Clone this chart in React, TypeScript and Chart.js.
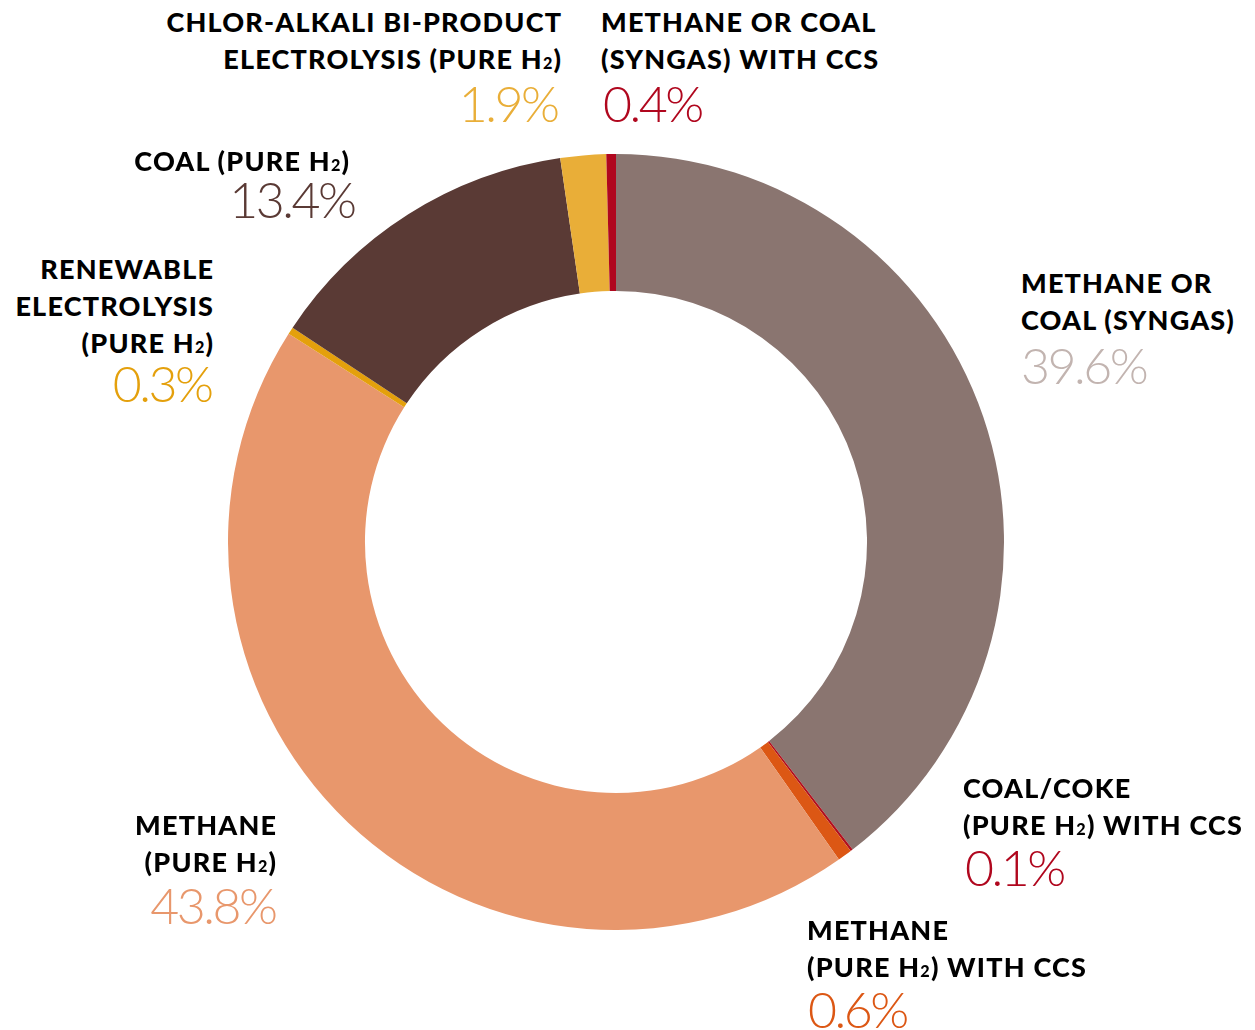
import React, { useEffect, useRef } from "react";
import { Chart, registerables } from "chart.js";

Chart.register(...registerables);

// ---- data ----
const categories = [
  "METHANE OR COAL (SYNGAS)",
  "COAL/COKE (PURE H2) WITH CCS",
  "METHANE (PURE H2) WITH CCS",
  "METHANE (PURE H2)",
  "RENEWABLE ELECTROLYSIS (PURE H2)",
  "COAL (PURE H2)",
  "CHLOR-ALKALI BI-PRODUCT ELECTROLYSIS (PURE H2)",
  "METHANE OR COAL (SYNGAS) WITH CCS",
];
const shares = [39.6, 0.1, 0.6, 43.8, 0.3, 13.4, 1.9, 0.4];
const valueLabels = ["39.6%", "0.1%", "0.6%", "43.8%", "0.3%", "13.4%", "1.9%", "0.4%"];
const labelLines: string[][] = [
  ["METHANE OR", "COAL (SYNGAS)"],
  ["COAL/COKE", "(PURE H_2) WITH CCS"],
  ["METHANE", "(PURE H_2) WITH CCS"],
  ["METHANE", "(PURE H_2)"],
  ["RENEWABLE", "ELECTROLYSIS", "(PURE H_2)"],
  ["COAL (PURE H_2)"],
  ["CHLOR-ALKALI BI-PRODUCT", "ELECTROLYSIS (PURE H_2)"],
  ["METHANE OR COAL", "(SYNGAS) WITH CCS"],
];

// ---- styles ----
const sliceColors = ["#8A7570", "#B0101F", "#DC5714", "#E8976C", "#E4A00C", "#5A3A35", "#E9AE38", "#B0071E"];
const numberColors = ["#C2B4B0", "#B0071E", "#DC5714", "#E8976C", "#E4A00C", "#5A3A35", "#E9AE38", "#B0071E"];

// label layout: anchor x, alignment, center y of first line, number anchor x, center y of number
const labelLayout = [
  { x: 1021, align: "left", y0: 282, nx: 1021, ny: 365 },
  { x: 963, align: "left", y0: 787, nx: 965, ny: 867 },
  { x: 807, align: "left", y0: 929, nx: 808, ny: 1009 },
  { x: 276, align: "right", y0: 824, nx: 278, ny: 905 },
  { x: 213, align: "right", y0: 268, nx: 214, ny: 383 },
  { x: 349, align: "right", y0: 160, nx: 357, ny: 199 },
  { x: 561, align: "right", y0: 21, nx: 560, ny: 103 },
  { x: 601, align: "left", y0: 21, nx: 603, ny: 103 },
];

const LINE_H = 37;
const LABEL_FONT = 27;
const NUM_FONT = 50;
const W = 1255;

function renderLine(text: string) {
  const parts = text.split("_2");
  const out: React.ReactNode[] = [];
  parts.forEach((p, i) => {
    out.push(<span key={"p" + i}>{p}</span>);
    if (i < parts.length - 1) {
      out.push(
        <span key={"s" + i} style={{ fontSize: "0.6em", verticalAlign: "baseline" }}>
          2
        </span>
      );
    }
  });
  return out;
}

export default function App() {
  const canvasRef = useRef<HTMLCanvasElement | null>(null);

  useEffect(() => {
    if (!canvasRef.current) return;
    const chart = new Chart(canvasRef.current, {
      type: "doughnut",
      data: {
        labels: categories,
        datasets: [
          {
            data: shares,
            backgroundColor: sliceColors,
            borderWidth: 0,
            hoverOffset: 0,
          },
        ],
      },
      options: {
        responsive: false,
        animation: false,
        cutout: "64.7%",
        rotation: 0,
        layout: { padding: 0 },
        plugins: {
          legend: { display: false },
          tooltip: { enabled: false },
        },
      },
    });
    return () => chart.destroy();
  }, []);

  return (
    <div
      style={{
        position: "absolute",
        left: 0,
        top: 0,
        width: W,
        height: 1030,
        overflow: "hidden",
        background: "#ffffff",
        fontFamily: "Lato, 'Noto Sans', sans-serif",
      }}
    >
      <canvas
        ref={canvasRef}
        width={776}
        height={776}
        style={{ position: "absolute", left: 228, top: 154, width: 776, height: 776 }}
      />
      {labelLayout.map((l, i) => {
        const posStyle: React.CSSProperties =
          l.align === "left"
            ? { left: l.x, textAlign: "left" }
            : { right: W - l.x - 1.2, textAlign: "right" };
        const numStyle: React.CSSProperties =
          l.align === "left"
            ? { left: l.nx, textAlign: "left" }
            : { right: W - l.nx + 2.5, textAlign: "right" };
        return (
          <React.Fragment key={i}>
            {labelLines[i].map((line, j) => (
              <div
                key={j}
                style={{
                  position: "absolute",
                  top: l.y0 + j * LINE_H - LINE_H / 2,
                  height: LINE_H,
                  lineHeight: LINE_H + "px",
                  fontSize: LABEL_FONT,
                  fontWeight: 900,
                  color: "#000000",
                  whiteSpace: "nowrap",
                  letterSpacing: "1.2px",
                  ...posStyle,
                }}
              >
                {renderLine(line)}
              </div>
            ))}
            <div
              style={{
                position: "absolute",
                top: l.ny - NUM_FONT / 2,
                height: NUM_FONT,
                lineHeight: NUM_FONT + "px",
                fontSize: NUM_FONT,
                fontWeight: 300,
                color: numberColors[i],
                whiteSpace: "nowrap",
                letterSpacing: "-2.5px",
                ...numStyle,
              }}
            >
              {valueLabels[i]}
            </div>
          </React.Fragment>
        );
      })}
    </div>
  );
}
